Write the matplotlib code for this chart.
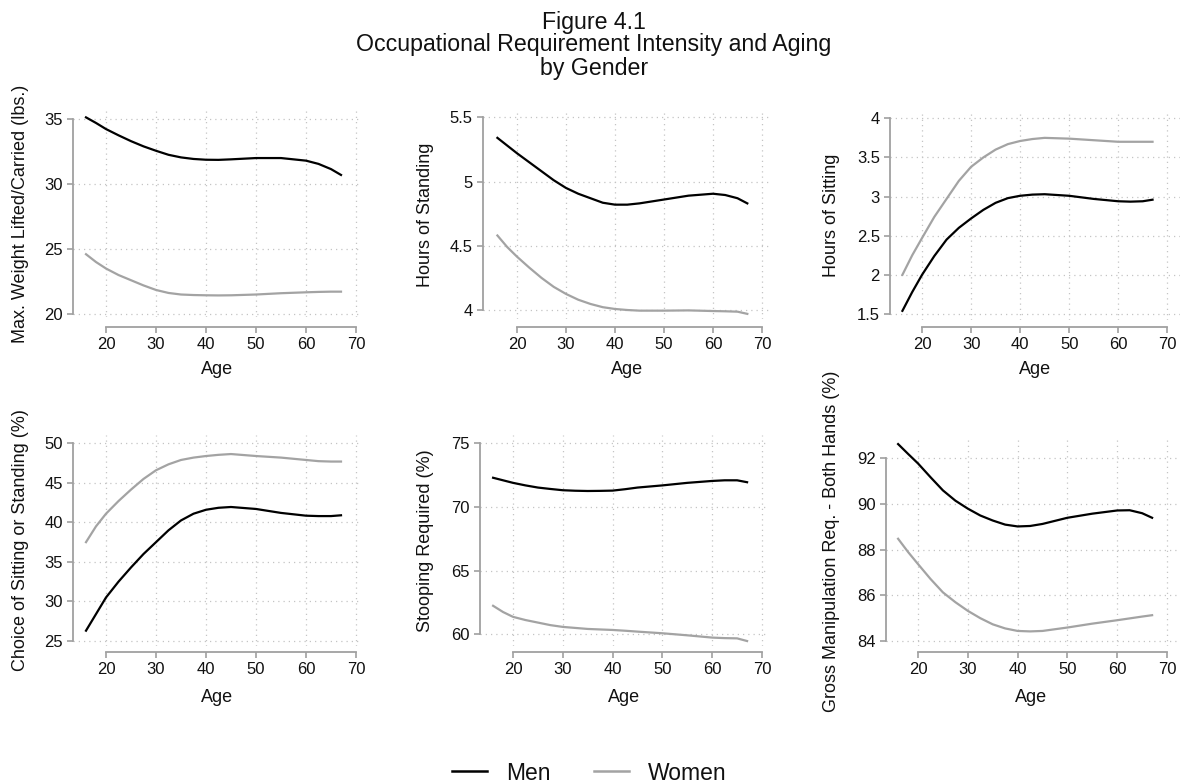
import matplotlib
matplotlib.use("Agg")
import matplotlib.pyplot as plt
from matplotlib.lines import Line2D
from matplotlib.ticker import FuncFormatter

plt.rcParams['font.family'] = ['Liberation Sans', 'DejaVu Sans']

# ---------------- data ----------------
ages = [16, 18, 20, 22.5, 25, 27.5, 30, 32.5, 35, 37.5, 40, 42.5, 45, 50, 55, 60, 62.5, 65, 67]

weight_men = [35.13, 34.7, 34.23, 33.75, 33.3, 32.9, 32.56, 32.25, 32.05, 31.93, 31.87, 31.86,
              31.9, 32.0, 32.0, 31.8, 31.55, 31.15, 30.7]
weight_women = [24.6, 24.0, 23.5, 23.0, 22.6, 22.2, 21.85, 21.62, 21.5, 21.46, 21.44, 21.43,
                21.44, 21.5, 21.6, 21.67, 21.7, 21.72, 21.72]

standing_men = [5.34, 5.28, 5.22, 5.15, 5.08, 5.01, 4.95, 4.905, 4.87, 4.835, 4.82, 4.82,
                4.83, 4.86, 4.89, 4.905, 4.895, 4.87, 4.83]
standing_women = [4.58, 4.49, 4.415, 4.33, 4.25, 4.18, 4.125, 4.08, 4.047, 4.022, 4.008, 4.0,
                  3.995, 3.995, 3.997, 3.992, 3.99, 3.987, 3.97]

sitting_men = [1.54, 1.78, 2.0, 2.24, 2.45, 2.6, 2.72, 2.83, 2.92, 2.98, 3.01, 3.025,
               3.03, 3.01, 2.97, 2.94, 2.935, 2.94, 2.96]
sitting_women = [2.0, 2.25, 2.47, 2.74, 2.97, 3.2, 3.38, 3.5, 3.6, 3.67, 3.71, 3.735,
                 3.75, 3.74, 3.72, 3.70, 3.70, 3.70, 3.70]

choice_men = [26.3, 28.4, 30.5, 32.5, 34.3, 36.0, 37.5, 39.0, 40.25, 41.1, 41.6, 41.85,
              41.95, 41.7, 41.2, 40.85, 40.8, 40.8, 40.9]
choice_women = [37.5, 39.5, 41.1, 42.7, 44.15, 45.5, 46.6, 47.35, 47.9, 48.2, 48.4, 48.55,
                48.65, 48.4, 48.2, 47.9, 47.75, 47.7, 47.7]

stoop_men = [72.3, 72.1, 71.9, 71.7, 71.53, 71.42, 71.32, 71.28, 71.26, 71.27, 71.29, 71.4,
             71.53, 71.7, 71.9, 72.05, 72.1, 72.1, 71.95]
stoop_women = [62.24, 61.75, 61.37, 61.12, 60.92, 60.72, 60.58, 60.5, 60.42, 60.38, 60.34, 60.28,
               60.21, 60.08, 59.92, 59.74, 59.7, 59.68, 59.47]

gross_men = [92.63, 92.2, 91.78, 91.18, 90.6, 90.15, 89.8, 89.5, 89.28, 89.1, 89.02, 89.04,
             89.13, 89.4, 89.58, 89.72, 89.73, 89.6, 89.4]
gross_women = [88.48, 87.9, 87.37, 86.72, 86.13, 85.7, 85.32, 85.0, 84.73, 84.55, 84.44, 84.42,
               84.44, 84.59, 84.76, 84.91, 84.99, 85.07, 85.13]

ylabels = ["Max. Weight Lifted/Carried (lbs.)", "Hours of Standing", "Hours of Sitting",
           "Choice of Sitting or Standing (%)", "Stooping Required (%)",
           "Gross Manipulation Req. - Both Hands (%)"]
yticks_list = [[20, 25, 30, 35], [4, 4.5, 5, 5.5], [1.5, 2, 2.5, 3, 3.5, 4],
               [25, 30, 35, 40, 45, 50], [60, 65, 70, 75], [84, 86, 88, 90, 92]]
xticks = [20, 30, 40, 50, 60, 70]
title_lines = ["Figure 4.1", "Occupational Requirement Intensity and Aging", "by Gender"]
legend_labels = ["Men", "Women"]

men_series = [weight_men, standing_men, sitting_men, choice_men, stoop_men, gross_men]
women_series = [weight_women, standing_women, sitting_women, choice_women, stoop_women, gross_women]

# ---------------- layout (pixels) ----------------
W, H = 1188, 783
# L, T, R, B, xlim, ylim, ylabel-x(px), xaxis offset(px), xlabel-y(px)
panels = [
    (73, 111, 362, 317, (13.4, 71.2), (19.77, 35.62), 21, 10, 370),
    (483, 111, 772, 319, (13.06, 72.04), (3.93, 5.549), 426, 8, 370),
    (890, 110, 1180, 320, (13.47, 72.6), (1.423, 4.106), 832, 7, 370),
    (73, 435, 362, 646, (13.4, 71.2), (24.36, 51.06), 21, 6, 697),
    (480, 435, 768, 646, (13.37, 71.2), (59.08, 75.66), 426, 6, 697),
    (886, 437, 1177, 646, (13.57, 72.0), (83.78, 92.94), 832, 6, 697),
]

fig = plt.figure(figsize=(W / 100, H / 100), dpi=100)

axis_gray = '#a0a0a0'
grid_gray = '#c4c4c4'
men_color = '#000000'
women_color = '#a3a3a3'
txt = '#111111'
px2pt = 72 / 100

fmt = FuncFormatter(lambda v, p: ('%g' % v))

for i, (L, T, R, B, xl, yl, ylx, xoff, xly) in enumerate(panels):
    ax = fig.add_axes([L / W, 1 - B / H, (R - L) / W, (B - T) / H])
    ax.plot(ages, women_series[i], color=women_color, lw=1.6, solid_joinstyle='round')
    ax.plot(ages, men_series[i], color=men_color, lw=1.6, solid_joinstyle='round')
    ax.set_xlim(*xl)
    ax.set_ylim(*yl)
    ax.set_xticks(xticks)
    ax.set_yticks(yticks_list[i])
    ax.yaxis.set_major_formatter(fmt)
    ax.grid(True, color=grid_gray, lw=0.9, linestyle=(0, (1, 3.2)))
    ax.set_axisbelow(True)
    for s in ['top', 'right']:
        ax.spines[s].set_visible(False)
    ax.spines['left'].set_color(axis_gray)
    ax.spines['bottom'].set_color(axis_gray)
    ax.spines['left'].set_linewidth(1.3)
    ax.spines['bottom'].set_linewidth(1.3)
    ax.spines['left'].set_bounds(min(yticks_list[i]), max(yticks_list[i]))
    ax.spines['bottom'].set_bounds(min(xticks), max(xticks))
    ax.spines['bottom'].set_position(('outward', xoff * px2pt))
    ax.tick_params(axis='both', colors=axis_gray, labelcolor=txt, labelsize=12,
                   length=4.3, width=1.2, pad=3)
    ax.set_ylabel(ylabels[i], fontsize=13, color=txt, va='center')
    ax.yaxis.set_label_coords((ylx - L) / (R - L), 0.5)
    ax.set_xlabel("Age", fontsize=13, color=txt, va='center')
    ax.xaxis.set_label_coords(0.5, (B - xly) / (B - T))

# title
for line, ypx in zip(title_lines, [22, 45, 68]):
    fig.text(0.5, 1 - ypx / H, line, ha='center', va='center', fontsize=16.7, color=txt)

handles = [Line2D([], [], color=men_color, lw=1.8), Line2D([], [], color=women_color, lw=1.8)]
fig.legend(handles, legend_labels, loc='center', bbox_to_anchor=(589 / W, 1 - 773 / H),
           ncol=2, frameon=False, fontsize=16.5, handlelength=1.55, handletextpad=0.8,
           columnspacing=1.9, borderpad=0, labelcolor=txt)

fig.savefig("out.png", dpi=100)
